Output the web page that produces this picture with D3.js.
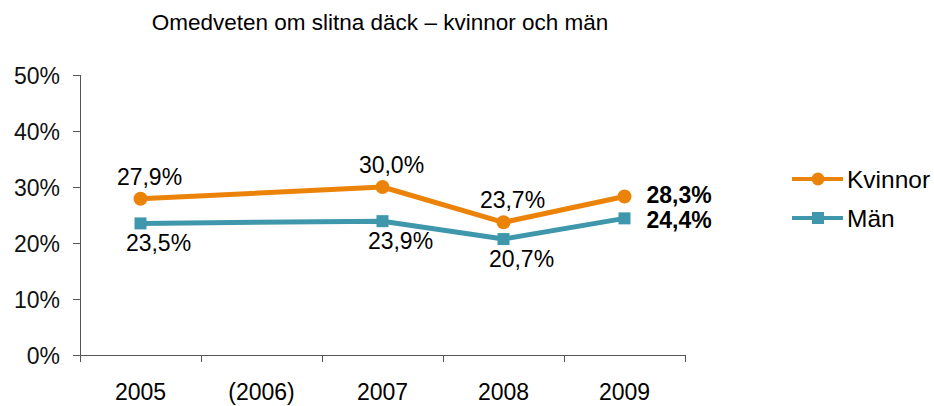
<!DOCTYPE html>
<html lang="sv">
<head>
	<meta charset="UTF-8">
	<title>Omedveten om slitna däck</title>
	<script src="https://d3js.org/d3.v7.min.js"></script>
	<style>
		body { margin: 0; background: #fff; }
		svg { font-family: "Liberation Sans", Arial, sans-serif; }
		.axis path, .axis line { fill: none; stroke: #555; shape-rendering: crispEdges; }
	</style>
</head>
<body>
	<script>
		var years = ['2005', '(2006)', '2007', '2008', '2009'];
		var kvinnor = [27.9, null, 30.0, 23.7, 28.3];
		var man = [23.5, 23.9, 20.7, 24.4];
		var manYears = ['2005', '2007', '2008', '2009'];
		var yTicks = [0, 10, 20, 30, 40, 50];

		var w = 934, h = 406;
		var orange = '#EC8309', teal = '#3F97AC';
		var fs = '23px';

		var svg = d3.select('body').append('svg')
			.attr('width', w)
			.attr('height', h);

		var x = d3.scaleBand().domain(years).range([80, 685]);
		var y = d3.scaleLinear().domain([0, 50]).range([355, 75]);
		var cx = function (c) { return x(c) + x.bandwidth() / 2; };

		svg.append('text')
			.attr('x', 380).attr('y', 30)
			.attr('text-anchor', 'middle')
			.style('font-size', '22.5px')
			.text('Omedveten om slitna däck – kvinnor och män');

		// y axis
		var yg = svg.append('g').attr('class', 'axis')
			.attr('transform', 'translate(80,0)')
			.call(d3.axisLeft(y).tickValues(yTicks).tickSize(7).tickSizeOuter(0).tickPadding(13)
				.tickFormat(function (d) { return d + '%'; }));
		yg.select('.domain').attr('d', 'M0.5,' + y(50) + 'V' + (y(0) + 6));
		yg.selectAll('text').style('font-size', fs).style('fill', '#111')
			.attr('font-family', null).attr('dy', '0.36em');

		// x axis, ticks at band edges
		var xg = svg.append('g').attr('class', 'axis')
			.attr('transform', 'translate(0,355)');
		xg.append('line').attr('x1', 73).attr('x2', 685).attr('y1', 0.5).attr('y2', 0.5);
		var edges = years.map(function (c) { return x(c); }).concat([685]);
		xg.selectAll('line.t').data(edges).enter().append('line')
			.attr('class', 't')
			.attr('x1', function (d) { return d + 0.5; }).attr('x2', function (d) { return d + 0.5; })
			.attr('y1', 0).attr('y2', 7);
		xg.selectAll('text').data(years).enter().append('text')
			.attr('x', cx).attr('y', 45)
			.attr('text-anchor', 'middle')
			.style('font-size', fs)
			.text(function (d) { return d; });

		var kPts = years.map(function (c, i) { return { c: c, v: kvinnor[i] }; })
			.filter(function (d) { return d.v !== null; });
		var mPts = manYears.map(function (c, i) { return { c: c, v: man[i] }; });

		var line = d3.line()
			.x(function (d) { return cx(d.c); })
			.y(function (d) { return y(d.v); });

		svg.append('path').datum(mPts)
			.attr('d', line).attr('fill', 'none')
			.attr('stroke', teal).attr('stroke-width', 5).attr('stroke-linejoin', 'round');
		svg.selectAll('rect.m').data(mPts).enter().append('rect')
			.attr('class', 'm')
			.attr('x', function (d) { return cx(d.c) - 6; })
			.attr('y', function (d) { return y(d.v) - 6; })
			.attr('width', 12).attr('height', 12)
			.attr('fill', teal);

		svg.append('path').datum(kPts)
			.attr('d', line).attr('fill', 'none')
			.attr('stroke', orange).attr('stroke-width', 5).attr('stroke-linejoin', 'round');
		svg.selectAll('circle.k').data(kPts).enter().append('circle')
			.attr('class', 'k')
			.attr('cx', function (d) { return cx(d.c); })
			.attr('cy', function (d) { return y(d.v); })
			.attr('r', 7)
			.attr('fill', orange);

		var fmt = function (v) { return v.toFixed(1).replace('.', ',') + '%'; };

		// value labels
		var last = years[years.length - 1];
		svg.selectAll('text.kl').data(kPts).enter().append('text')
			.attr('class', 'kl')
			.attr('x', function (d) { return d.c === last ? cx(d.c) + 22 : cx(d.c) + 9; })
			.attr('y', function (d) { return d.c === last ? y(d.v) + 6 : y(d.v) - 14; })
			.attr('text-anchor', function (d) { return d.c === last ? 'start' : 'middle'; })
			.style('font-size', fs)
			.style('font-weight', function (d) { return d.c === last ? 'bold' : 'normal'; })
			.text(function (d) { return fmt(d.v); });

		svg.selectAll('text.ml').data(mPts).enter().append('text')
			.attr('class', 'ml')
			.attr('x', function (d) { return d.c === last ? cx(d.c) + 22 : cx(d.c) + 18; })
			.attr('y', function (d) { return d.c === last ? y(d.v) + 10 : y(d.v) + 28; })
			.attr('text-anchor', function (d) { return d.c === last ? 'start' : 'middle'; })
			.style('font-size', fs)
			.style('font-weight', function (d) { return d.c === last ? 'bold' : 'normal'; })
			.text(function (d) { return fmt(d.v); });

		// legend
		var legend = [{ name: 'Kvinnor', color: orange, shape: 'circle' }, { name: 'Män', color: teal, shape: 'square' }];
		var lg = svg.selectAll('g.leg').data(legend).enter().append('g')
			.attr('transform', function (d, i) { return 'translate(792,' + (179 + i * 39) + ')'; });
		lg.append('line').attr('x1', 0).attr('x2', 51).attr('y1', 0).attr('y2', 0)
			.attr('stroke', function (d) { return d.color; }).attr('stroke-width', 4);
		lg.filter(function (d) { return d.shape === 'circle'; }).append('circle')
			.attr('cx', 26).attr('cy', 0).attr('r', 6.5).attr('fill', function (d) { return d.color; });
		lg.filter(function (d) { return d.shape === 'square'; }).append('rect')
			.attr('x', 20).attr('y', -6).attr('width', 12).attr('height', 12).attr('fill', function (d) { return d.color; });
		lg.append('text').attr('x', 55).attr('y', 9)
			.style('font-size', '24.5px')
			.text(function (d) { return d.name; });
	</script>
</body>
</html>
